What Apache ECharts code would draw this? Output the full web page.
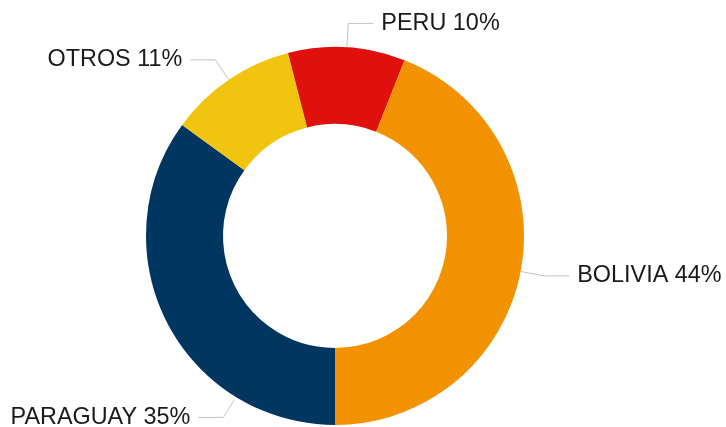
<!DOCTYPE html>
<html>
<head>
<meta charset="utf-8">
<script src="https://cdn.jsdelivr.net/npm/echarts@6/dist/echarts.min.js"></script>
<style>
html,body{margin:0;padding:0;background:#fff;}
#c{width:726px;height:427px;}
</style>
</head>
<body>
<div id="c"></div>
<script>
var categories = ['PARAGUAY', 'OTROS', 'PERU', 'BOLIVIA'];
var values = [35, 11, 10, 44];
var colors = ['#00365f', '#f1c40f', '#e0100c', '#f29200'];

var CX = 335, CY = 236, R_IN = 112, R_OUT = 189;

var chart = echarts.init(document.getElementById('c'), null, {renderer: 'canvas'});
var data = categories.map(function (c, i) {
  return {name: c, value: values[i], itemStyle: {color: colors[i]}};
});

chart.setOption({
  animation: false,
  backgroundColor: '#ffffff',
  series: [{
    type: 'pie',
    center: [CX, CY],
    radius: [R_IN, R_OUT],
    startAngle: 270,
    clockwise: true,
    avoidLabelOverlap: false,
    data: data,
    itemStyle: {borderWidth: 0},
    label: {
      show: true,
      formatter: '{b} {d}%',
      fontFamily: 'Liberation Sans, Arial, sans-serif',
      fontSize: 23.4,
      color: '#1a1a1a',
      padding: [4, 0, 0, 0],
      distanceToLabelLine: 8
    },
    labelLine: {
      show: true,
      length: 24,
      length2: 25,
      lineStyle: {color: '#c4c4c4', width: 1}
    },
    emphasis: {disabled: true},
    labelLayout: function (params) {
      if (categories[params.dataIndex] !== 'PARAGUAY') return {};
      // connector attached lower on the slice, label pushed to the bottom
      var ang = -148.4 * Math.PI / 180;
      var sx = Math.sin(ang), sy = -Math.cos(ang);
      var ax = CX + (R_OUT + 3) * sx, ay = CY + (R_OUT + 3) * sy;
      var ex = CX + (R_OUT + 24) * sx, ey = CY + (R_OUT + 24) * sy;
      var hx = ex - 25;
      return {
        x: hx - 8,
        y: ey,
        align: 'right',
        verticalAlign: 'middle',
        labelLinePoints: [[ax, ay], [ex, ey], [hx, ey]]
      };
    }
  }]
});
</script>
</body>
</html>
